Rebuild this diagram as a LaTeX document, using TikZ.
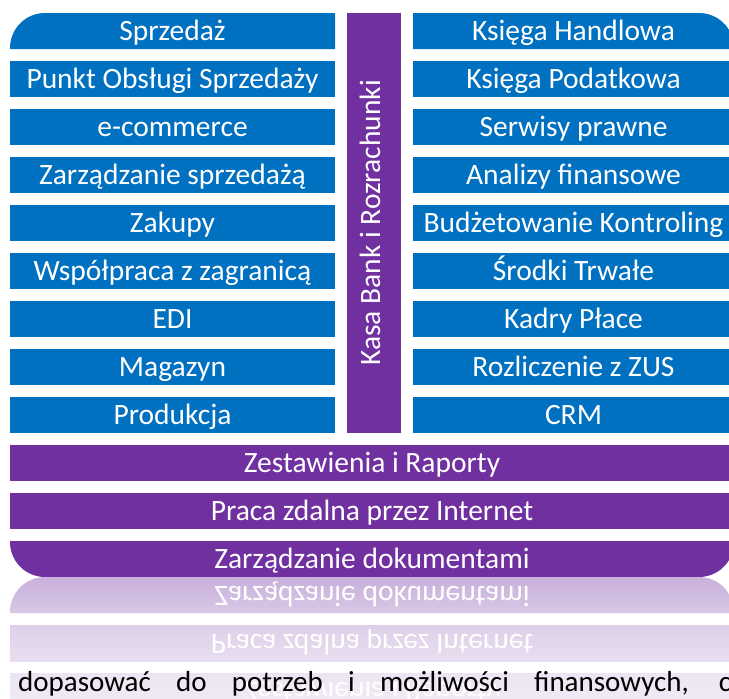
\documentclass[tikz,border=0pt]{standalone}
\usepackage{fontspec,
            xcolor
            }
\setmainfont{Carlito}
\definecolor{niebieski}{HTML}{0070C0}
\definecolor{fiolet}{HTML}{7030A0}
\tikzset{
  modul/.style={text=white,inner sep=0pt,text height=18pt,text depth=0pt,font=\fontsize{29.5}{30}\selectfont},
  lewy/.style={modul,fill=niebieski,minimum width=325pt,minimum height=36pt},
  prawy/.style={modul,fill=niebieski,minimum width=321pt,minimum height=36pt},
  dolny/.style={modul,fill=fiolet,minimum width=724pt,minimum height=36pt},
  odbicie/.style={modul,yscale=-1}
}

\begin{document}
\begin{tikzpicture}[x=1pt,y=-1pt]
\useasboundingbox (0,0) rectangle (729,699);
\clip (0,0) rectangle (729,699);
%moduly lewe
\fill[niebieski] (10,49) -- (10,48) .. controls (10,28.7) and (25.7,13) .. (45,13) -- (335,13) -- (335,49) -- cycle;
\node[modul] (sprzedaz) at (172.5,31) {Sprzedaż};
\node[lewy] (pos) at (172.5,79) {Punkt Obsługi Sprzedaży};
\node[lewy] (ecommerce) at (172.5,127) {e-commerce};
\node[lewy] (zarzadzanie) at (172.5,175) {Zarządzanie sprzedażą};
\node[lewy] (zakupy) at (172.5,223) {Zakupy};
\node[lewy] (zagranica) at (172.5,271) {Współpraca z zagranicą};
\node[lewy] (edi) at (172.5,319) {EDI};
\node[lewy] (magazyn) at (172.5,367) {Magazyn};
\node[lewy] (produkcja) at (172.5,415) {Produkcja};
%fin
%kolumna srodkowa
\fill[fiolet] (347,13) rectangle (401,433);
\node[modul,rotate=90] (kasa) at (371,223) {Kasa Bank i Rozrachunki};
%moduly prawe
\fill[niebieski] (413,13) -- (699,13) .. controls (718.3,13) and (734,28.7) .. (734,48) -- (734,49) -- (413,49) -- cycle;
\node[modul] (handlowa) at (573.5,31) {Księga Handlowa};
\node[prawy] (podatkowa) at (573.5,79) {Księga Podatkowa};
\node[prawy] (serwisy) at (573.5,127) {Serwisy prawne};
\node[prawy] (analizy) at (573.5,175) {Analizy finansowe};
\node[prawy] (budzet) at (573.5,223) {Budżetowanie Kontroling};
\node[prawy] (srodki) at (573.5,271) {Środki Trwałe};
\node[prawy] (kadry) at (573.5,319) {Kadry Płace};
\node[prawy] (zus) at (573.5,367) {Rozliczenie z ZUS};
\node[prawy] (crm) at (573.5,415) {CRM};
%fin
%moduly dolne
\node[dolny] (raporty) at (372,463) {Zestawienia i Raporty};
\node[dolny] (praca) at (372,511) {Praca zdalna przez Internet};
\fill[fiolet] (10,541) -- (10,542) .. controls (10,561.3) and (25.7,577) .. (45,577) -- (699,577) .. controls (718.3,577) and (734,561.3) .. (734,542) -- (734,541) -- cycle;
\node[modul] (dokumenty) at (372,559) {Zarządzanie dokumentami};
%odbicie
\shade[top color=fiolet!38,bottom color=fiolet!27] (10,613) -- (10,612) .. controls (10,592.7) and (25.7,577) .. (45,577) -- (699,577) .. controls (718.3,577) and (734,592.7) .. (734,612) -- (734,613) -- cycle;
\node[odbicie] (dokumenty') at (372,595) {Zarządzanie dokumentami};
\shade[top color=fiolet!23,bottom color=fiolet!16] (10,625) rectangle (734,661);
\node[odbicie] (praca') at (372,643) {Praca zdalna przez Internet};
\shade[top color=fiolet!13,bottom color=fiolet!9] (10,673) rectangle (734,709);
\node[odbicie] (raporty') at (372,691) {Zestawienia i Raporty};
%fin
\node[anchor=base west,inner sep=0pt,font=\fontsize{29}{30}\selectfont] (opis) at (18,691) {\makebox[713pt][s]{dopasować do potrzeb i możliwości finansowych, c}};
\end{tikzpicture}
\end{document}
